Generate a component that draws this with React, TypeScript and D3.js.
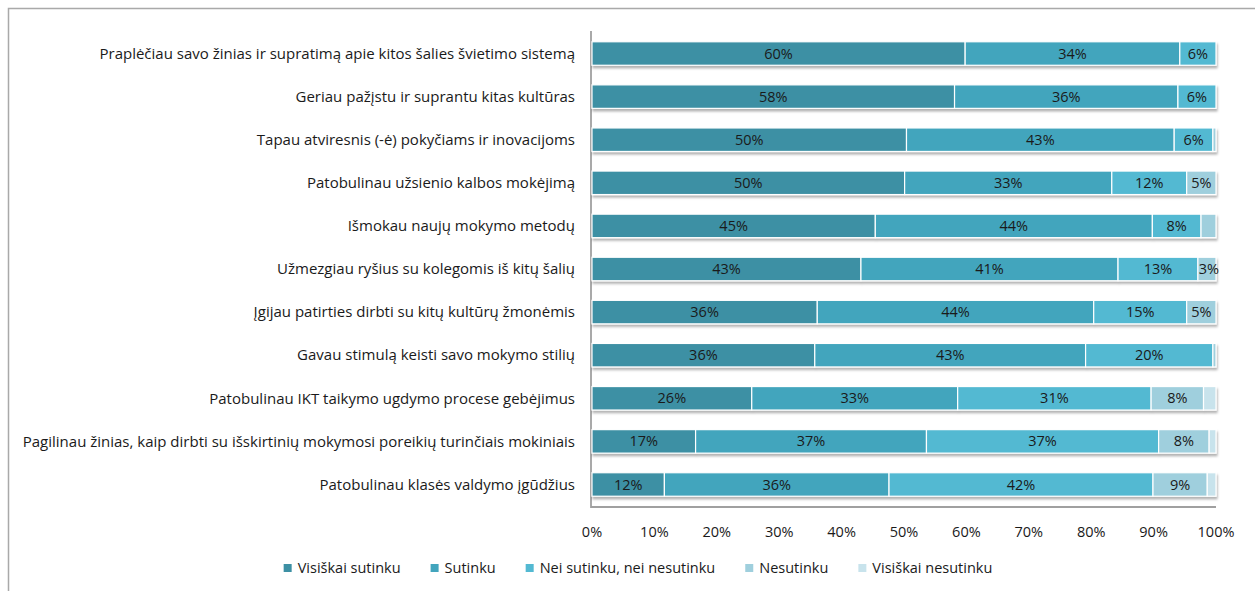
import React, { useEffect, useRef } from "react";
import * as d3 from "d3";

const categories = [
  "Praplėčiau savo žinias ir supratimą apie kitos šalies švietimo sistemą",
  "Geriau pažįstu ir suprantu kitas kultūras",
  "Tapau atviresnis (-ė) pokyčiams ir inovacijoms",
  "Patobulinau užsienio kalbos mokėjimą",
  "Išmokau naujų mokymo metodų",
  "Užmezgiau ryšius su kolegomis iš kitų šalių",
  "Įgijau patirties dirbti su kitų kultūrų žmonėmis",
  "Gavau stimulą keisti savo mokymo stilių",
  "Patobulinau IKT taikymo ugdymo procese gebėjimus",
  "Pagilinau žinias, kaip dirbti su išskirtinių mokymosi poreikių turinčiais mokiniais",
  "Patobulinau klasės valdymo įgūdžius",
];

const seriesNames = [
  "Visiškai sutinku",
  "Sutinku",
  "Nei sutinku, nei nesutinku",
  "Nesutinku",
  "Visiškai nesutinku",
];

const visiskaiSutinku = [59.8, 58.1, 50.4, 50.1, 45.4, 43.1, 36.1, 35.7, 25.6, 16.6, 11.6];
const sutinku = [34.4, 35.8, 42.9, 33.2, 44.4, 41.2, 44.3, 43.4, 33.0, 37.0, 36.0];
const neiSutinkuNeiNesutinku = [5.8, 6.1, 6.2, 12.0, 7.8, 12.8, 14.9, 20.4, 31.0, 37.2, 42.3];
const nesutinku = [0, 0, 0.5, 4.7, 2.4, 2.9, 4.7, 0.5, 8.4, 8.1, 8.7];
const visiskaiNesutinku = [0, 0, 0, 0, 0, 0, 0, 0, 2.0, 1.1, 1.4];

const xTicks = [0, 10, 20, 30, 40, 50, 60, 70, 80, 90, 100];

const colors = ["#3d90a4", "#42a5bd", "#53b9d2", "#9fcfdd", "#c8e3ec"];

const FONT = "'Open Sans', Lato, sans-serif";

export default function App() {
  const ref = useRef<SVGSVGElement>(null);

  useEffect(() => {
    const svg = d3.select(ref.current);
    svg.selectAll("*").remove();

    const W = 1255, H = 591;
    const x = d3.scaleLinear().domain([0, 100]).range([592, 1216]);
    const y = d3
      .scaleBand<string>()
      .domain(categories)
      .range([31, 507])
      .paddingInner(0.455)
      .paddingOuter(0.25);

    const series = [visiskaiSutinku, sutinku, neiSutinkuNeiNesutinku, nesutinku, visiskaiNesutinku];

    const defs = svg.append("defs");
    const f = defs.append("filter").attr("id", "shadow").attr("x", "-5%").attr("y", "-30%").attr("width", "110%").attr("height", "180%");
    f.append("feDropShadow")
      .attr("dx", 1)
      .attr("dy", 2.5)
      .attr("stdDeviation", 1.3)
      .attr("flood-color", "#000")
      .attr("flood-opacity", 0.3);

    // frame
    svg
      .append("path")
      .attr("d", `M8.5,${H} V8.5 H${W}`)
      .attr("fill", "none")
      .attr("stroke", "#a9a9a9")
      .attr("stroke-width", 1.5);

    // axes lines
    svg
      .append("line")
      .attr("x1", 591)
      .attr("x2", 1216)
      .attr("y1", 507)
      .attr("y2", 507)
      .attr("stroke", "#a0a0a0")
      .attr("stroke-width", 1.8);
    svg
      .append("line")
      .attr("x1", 591)
      .attr("x2", 591)
      .attr("y1", 31)
      .attr("y2", 508)
      .attr("stroke", "#a0a0a0")
      .attr("stroke-width", 1.8);

    const bw = y.bandwidth();

    categories.forEach((cat, i) => {
      const g = svg.append("g");
      const bars = g.append("g").attr("filter", "url(#shadow)");
      let acc = 0;
      series.forEach((s, k) => {
        const v = s[i];
        const x0 = x(acc);
        const x1 = x(acc + v);
        acc += v;
        if (v <= 0) return;
        bars
          .append("rect")
          .attr("x", x0)
          .attr("y", y(cat)!)
          .attr("width", Math.max(0, x1 - x0))
          .attr("height", bw)
          .attr("fill", colors[k])
          .attr("stroke", "#ffffff")
          .attr("stroke-width", 1.2);
        if (v >= 2.5) {
          g.append("text")
            .attr("x", (x0 + x1) / 2 + (v < 4 ? 2 : 0))
            .attr("y", y(cat)! + bw / 2)
            .attr("dy", "0.35em")
            .attr("text-anchor", "middle")
            .attr("font-family", FONT)
            .attr("font-size", 14.5)
            .attr("fill", "#1a1a1a")
            .text(`${Math.round(v)}%`);
        }
      });

      svg
        .append("text")
        .attr("x", 575)
        .attr("y", y(cat)! + bw / 2)
        .attr("dy", "0.35em")
        .attr("text-anchor", "end")
        .attr("font-family", FONT)
        .attr("font-size", 15)
        .attr("fill", "#1a1a1a")
        .text(cat);
    });

    // tick labels
    xTicks.forEach((t) => {
      svg
        .append("text")
        .attr("x", x(t))
        .attr("y", 532)
        .attr("dy", "0.35em")
        .attr("text-anchor", "middle")
        .attr("font-family", FONT)
        .attr("font-size", 14.5)
        .attr("fill", "#1a1a1a")
        .text(`${t}%`);
    });

    // legend
    const lg = svg.append("g");
    const items: { g: any; w: number }[] = [];
    seriesNames.forEach((name, k) => {
      const ig = lg.append("g");
      ig.append("rect").attr("x", 0).attr("y", -4).attr("width", 8).attr("height", 8).attr("fill", colors[k]);
      const t = ig
        .append("text")
        .attr("x", 14)
        .attr("y", 0)
        .attr("dy", "0.35em")
        .attr("font-family", FONT)
        .attr("font-size", 14.5)
        .attr("fill", "#1a1a1a")
        .text(name);
      const w = 14 + (t.node() as SVGTextElement).getComputedTextLength();
      items.push({ g: ig, w });
    });
    const gap = 30;
    const total = d3.sum(items, (d) => d.w) + gap * (items.length - 1);
    let cx = 638 - total / 2;
    items.forEach((it) => {
      it.g.attr("transform", `translate(${cx},568)`);
      cx += it.w + gap;
    });
  }, []);

  return (
    <svg
      ref={ref}
      width={1255}
      height={591}
      style={{ position: "absolute", left: 0, top: 0, background: "#fff" }}
    />
  );
}
